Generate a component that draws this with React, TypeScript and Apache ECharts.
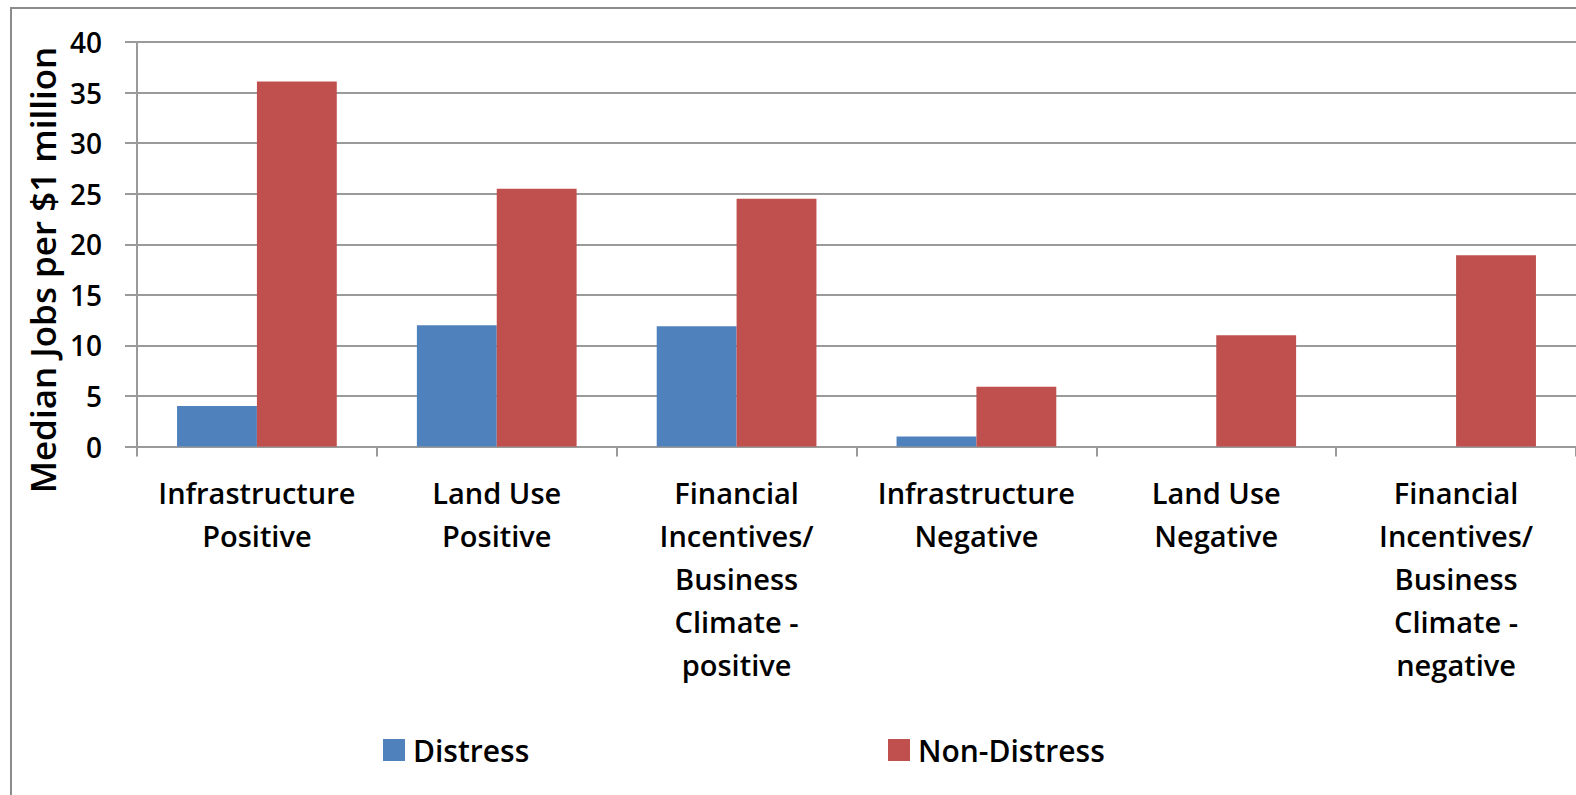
import React, { useEffect, useRef } from "react";
import * as echarts from "echarts";

const categories = [
  "Infrastructure\nPositive",
  "Land Use\nPositive",
  "Financial\nIncentives/\nBusiness\nClimate -\npositive",
  "Infrastructure\nNegative",
  "Land Use\nNegative",
  "Financial\nIncentives/\nBusiness\nClimate -\nnegative",
];
const distress = [4, 12, 11.9, 1, null, null];
const nonDistress = [36.1, 25.5, 24.5, 5.9, 11, 18.9];
const yAxisTitle = "Median Jobs per $1 million";

const FONT = "'Open Sans', sans-serif";
const GRID_COLOR = "#9a9a9a";

export default function App() {
  const ref = useRef<HTMLDivElement>(null);
  useEffect(() => {
    if (!ref.current) return;
    const chart = echarts.init(ref.current, undefined, { renderer: "svg" });
    const legendText = { fontFamily: FONT, fontSize: 30, fontWeight: 600, color: "#000", padding: [0, 0, 0, 3] };
    chart.setOption({
      animation: false,
      backgroundColor: "#ffffff",
      textStyle: { fontFamily: FONT, color: "#000" },
      graphic: [
        {
          type: "rect",
          shape: { x: 11, y: 8, width: 1700, height: 900 },
          style: { fill: "none", stroke: "#8c8c8c", lineWidth: 2 },
          silent: true,
        },
        {
          type: "text",
          x: 42,
          y: 270,
          rotation: Math.PI / 2,
          style: {
            text: yAxisTitle,
            fontFamily: FONT,
            fontSize: 35,
            fontWeight: 600,
            fill: "#000",
            align: "center",
            verticalAlign: "middle",
          },
          silent: true,
        },
      ],
      grid: { left: 137, right: 0, top: 42, bottom: 348.5, containLabel: false },
      legend: [
        {
          data: ["Distress"],
          left: 383,
          top: 735,
          padding: 0,
          itemWidth: 22,
          itemHeight: 22,
          icon: "rect",
          textStyle: legendText,
        },
        {
          data: ["Non-Distress"],
          left: 888,
          top: 735,
          padding: 0,
          itemWidth: 22,
          itemHeight: 22,
          icon: "rect",
          textStyle: legendText,
        },
      ],
      xAxis: {
        type: "category",
        data: categories,
        axisLine: { show: true, lineStyle: { color: GRID_COLOR, width: 2 } },
        axisTick: { show: true, length: 10, lineStyle: { color: GRID_COLOR, width: 2 } },
        axisLabel: {
          interval: 0,
          margin: 24,
          fontFamily: FONT,
          fontSize: 29,
          fontWeight: 600,
          lineHeight: 43,
          color: "#000",
          align: "center",
        },
      },
      yAxis: {
        type: "value",
        min: 0,
        max: 40,
        interval: 5,
        axisLine: { show: true, lineStyle: { color: GRID_COLOR, width: 2 } },
        axisTick: { show: true, length: 12, inside: false, lineStyle: { color: GRID_COLOR, width: 2 } },
        axisLabel: {
          margin: 35,
          fontFamily: FONT,
          fontSize: 28,
          fontWeight: 600,
          color: "#000",
        },
        splitLine: { show: true, lineStyle: { color: GRID_COLOR, width: 2 } },
      },
      series: [
        {
          name: "Distress",
          type: "bar",
          data: distress,
          barGap: "0%",
          barCategoryGap: "33.4%",
          itemStyle: { color: "#4F81BD" },
        },
        {
          name: "Non-Distress",
          type: "bar",
          data: nonDistress,
          barGap: "0%",
          barCategoryGap: "33.4%",
          itemStyle: { color: "#C0504D" },
        },
      ],
    });
    return () => chart.dispose();
  }, []);
  return (
    <div
      ref={ref}
      style={{ position: "absolute", left: 0, top: 0, width: 1576, height: 795, background: "#fff" }}
    />
  );
}
